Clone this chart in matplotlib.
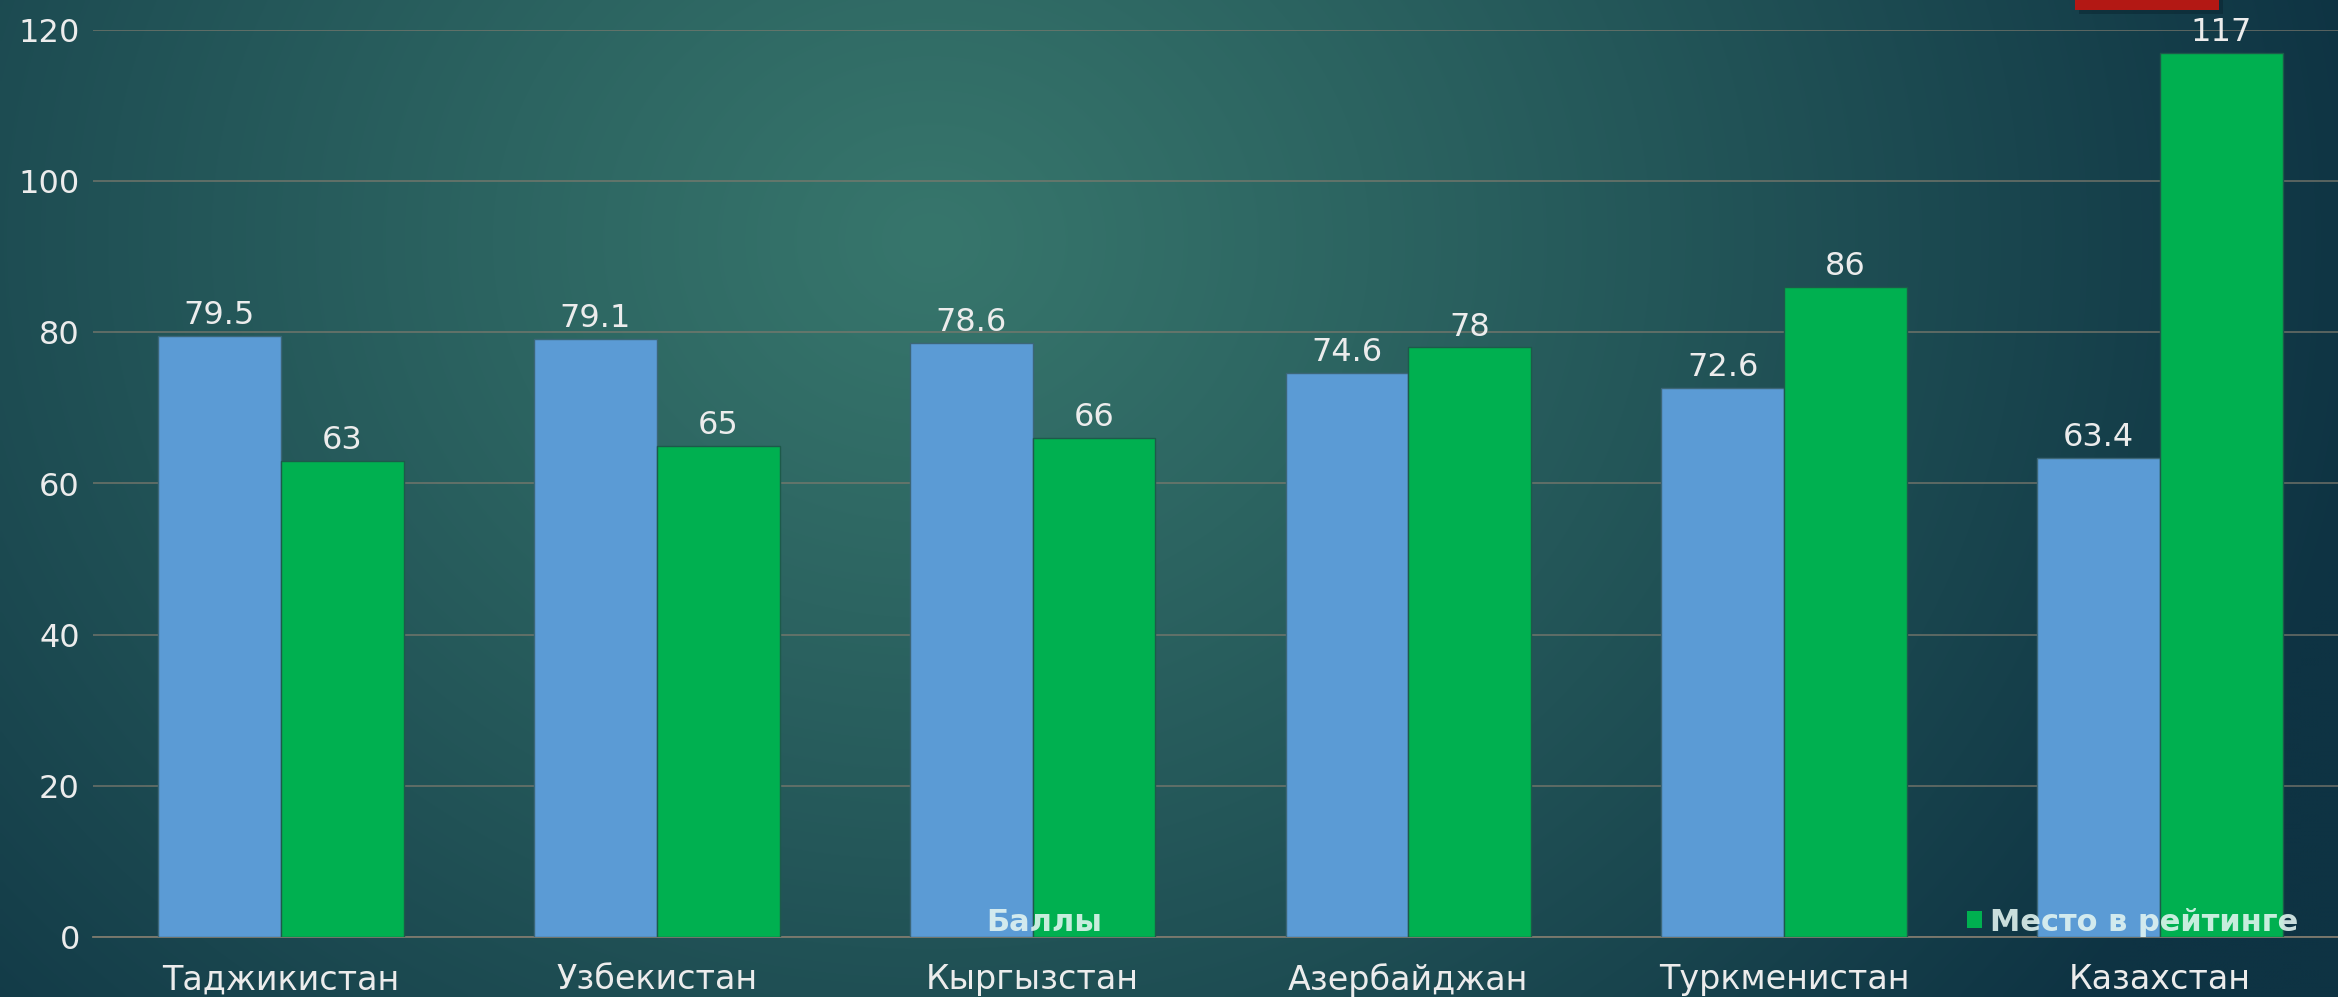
import numpy as np
import matplotlib
matplotlib.use("Agg")
import matplotlib.pyplot as plt
from matplotlib.patches import Rectangle

# Data
countries = ["Таджикистан", "Узбекистан", "Кыргызстан", "Азербайджан", "Туркменистан", "Казахстан"]
scores = [79.5, 79.1, 78.6, 74.6, 72.6, 63.4]
ranks = [63, 65, 66, 78, 86, 117]
series_names = ["Баллы", "Место в рейтинге"]
y_ticks = [0, 20, 40, 60, 80, 100, 120]

W, H, DPI = 2338, 997, 100
fig = plt.figure(figsize=(W / DPI, H / DPI), dpi=DPI)

# Radial teal background
bg = fig.add_axes([0, 0, 1, 1], zorder=-10)
bg.set_axis_off()
gy, gx = np.mgrid[0:H:4, 0:W:4].astype(float)
cx, cy, rx, ry = 930.0, 240.0, 1450.0, 1250.0
t = np.clip(np.sqrt(((gx - cx) / rx) ** 2 + ((gy - cy) / ry) ** 2), 0, 1) ** 1.1
c0 = np.array([0x37, 0x76, 0x6c]) / 255.0
c1 = np.array([0x0e, 0x33, 0x43]) / 255.0
img = c0[None, None, :] * (1 - t[..., None]) + c1[None, None, :] * t[..., None]
bg.imshow(img, extent=[0, 1, 0, 1], aspect="auto", interpolation="bilinear")
bg.set_xlim(0, 1)
bg.set_ylim(0, 1)

# Red accent block at top right
fig.patches.append(Rectangle((2079 / W, 1 - 14 / H), 144 / W, 14 / H,
                             transform=fig.transFigure, facecolor="#0a2530",
                             alpha=0.5, edgecolor="none", zorder=5))
fig.patches.append(Rectangle((2075 / W, 1 - 10 / H), 144 / W, 10 / H,
                             transform=fig.transFigure, facecolor="#b31814",
                             edgecolor="none", zorder=6))

ax = fig.add_axes([93 / W, 60 / H, 2255 / W, 907 / H])
ax.set_facecolor("none")

x = np.arange(len(countries))
bw = 0.327
text_col = "#ececec"
blue = ax.bar(x - bw / 2, scores, width=bw, color="#5b9bd5",
              edgecolor="#3c6677", linewidth=1.0, zorder=3)
green = ax.bar(x + bw / 2, ranks, width=bw, color="#00b050",
               edgecolor="#1d5a4a", linewidth=1.0, zorder=3)

for xi, v in zip(x - bw / 2, scores):
    ax.annotate(f"{v:.1f}", (xi, v), xytext=(0, 8.6), textcoords="offset points",
                ha="center", va="baseline", fontsize=23, color=text_col,
                annotation_clip=False, zorder=4)
for xi, v in zip(x + bw / 2, ranks):
    ax.annotate(f"{v}", (xi, v), xytext=(0, 8.6), textcoords="offset points",
                ha="center", va="baseline", fontsize=23, color=text_col,
                annotation_clip=False, zorder=4)

ax.set_xlim(-0.5, len(countries) - 0.5)
ax.set_ylim(0, 120)
ax.set_yticks(y_ticks)
ax.set_yticklabels([str(v) for v in y_ticks])
ax.set_xticks(x)
ax.set_xticklabels(countries)
ax.tick_params(axis="y", length=0, pad=9.4, labelsize=23, labelcolor=text_col)
ax.tick_params(axis="x", length=0, pad=19, labelsize=24, labelcolor=text_col)
ax.grid(axis="y", color="#7d7a6e", linewidth=1.1, alpha=0.85, zorder=0)
ax.set_axisbelow(True)
for side in ("top", "right", "left"):
    ax.spines[side].set_visible(False)
ax.spines["bottom"].set_color("#7d7a6e")
ax.spines["bottom"].set_linewidth(1.3)

leg = ax.legend([blue, green], series_names, ncol=2, frameon=False,
                loc="center left", bbox_to_anchor=(963 / W, 1 - 922 / H),
                bbox_transform=fig.transFigure, borderpad=0, borderaxespad=0,
                handlelength=0.5, handleheight=0.5, handletextpad=0.26,
                columnspacing=28.3,
                prop={"size": 22, "weight": "bold"})
for txt in leg.get_texts():
    txt.set_color("#e4f6f2")
    txt.set_alpha(0.88)
for h in leg.legend_handles:
    h.set_edgecolor("none")
leg.set_zorder(10)

fig.savefig("out.png", dpi=DPI)
